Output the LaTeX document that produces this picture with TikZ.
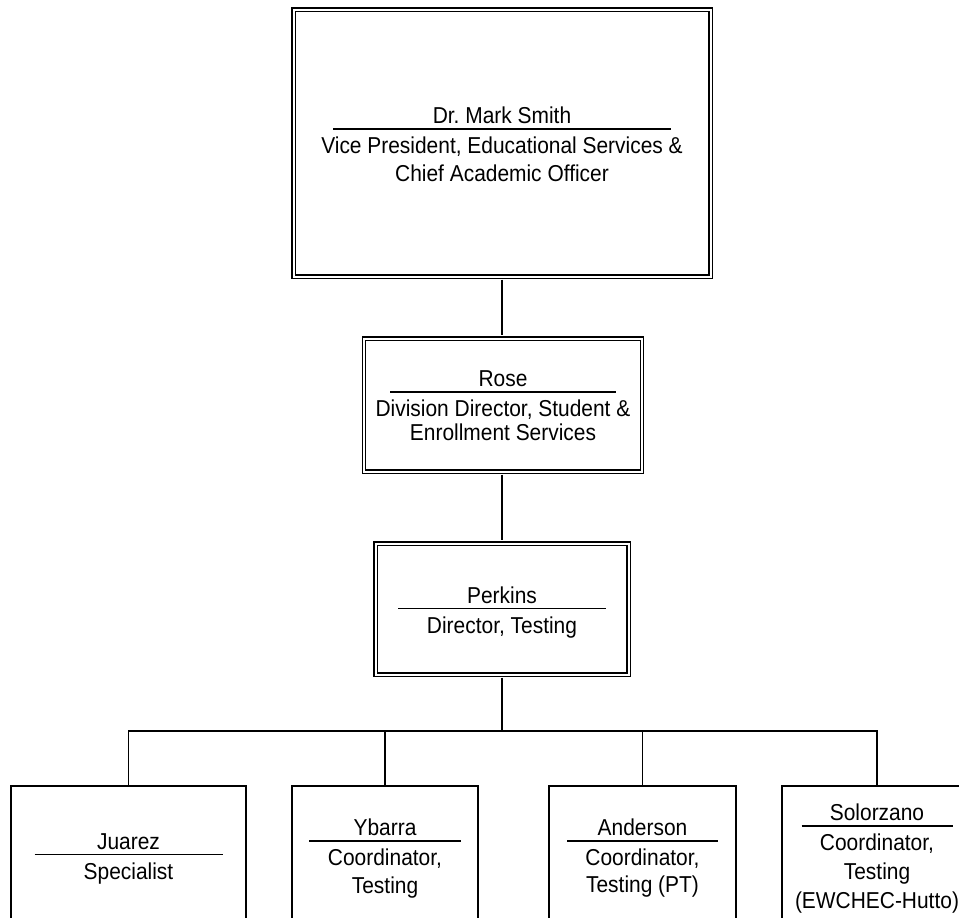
\documentclass[tikz,border=0pt]{standalone}
\usepackage{fontspec}
\setmainfont{Liberation Sans}[FakeStretch=0.91]
\usepackage{tikz}
\usetikzlibrary{positioning,calc}
\tikzset{
  orgline/.style={line width=1.4pt, draw=black},
  headbox/.style={draw, double, double distance=2pt, line width=1.4pt, inner sep=0pt, align=center},
  staffbox/.style={draw, line width=1.4pt, inner sep=0pt, minimum height=138pt, align=center}
}
% [line spacing] name, rule width, title lines
\newcommand{\orgcard}[4][27pt]{\fontsize{23}{#1}\selectfont
  \begin{tabular}{@{}c@{}}#2\rule{0pt}{\dimexpr#1*7/10+8pt\relax}\\[\dimexpr6pt-#1\relax]%
  \rule{#3}{1.5pt}\\[\dimexpr24pt-#1\relax]#4\end{tabular}}

\begin{document}
\begin{tikzpicture}[x=1pt, y=-1pt]
\path[use as bounding box, clip] (0,0) rectangle (959,918);

\node[headbox, minimum width=417pt, minimum height=267pt] at (502,143) (smith)
  {\orgcard[28pt]{Dr.\ Mark Smith}{338pt}{Vice President, Educational Services \&\\Chief Academic Officer}};
\node[headbox, minimum width=278pt, minimum height=133pt] at (503,405) (rose)
  {\orgcard[24pt]{Rose}{226pt}{Division Director, Student \&\\Enrollment Services}};
\node[headbox, minimum width=253pt, minimum height=131pt] at (502,609) (perkins)
  {\orgcard{Perkins}{208pt}{Director, Testing}};

\node[staffbox, minimum width=235pt] at (128.5,855) (juarez) {\orgcard{Juarez}{188pt}{Specialist}};
\node[staffbox, minimum width=186pt] at (385,855) (ybarra) {\orgcard[28pt]{Ybarra}{152pt}{Coordinator,\\Testing}};
\node[staffbox, minimum width=187pt] at (642.5,855) (anderson) {\orgcard[27pt]{Anderson}{151pt}{Coordinator,\\Testing (PT)}};
\node[staffbox, minimum width=190pt] at (877,855) (solorzano) {\orgcard[29pt]{Solorzano}{151pt}{Coordinator,\\Testing\\(EWCHEC-Hutto)}};

\coordinate (bus) at (502,731);
\draw[orgline, shorten <=2.4pt, shorten >=2.4pt] (smith.south) -- (smith.south |- rose.north);
\draw[orgline, shorten <=2.4pt, shorten >=2.4pt] (rose.south -| perkins.north) -- (perkins.north);
\draw[orgline, shorten <=2.4pt] (perkins.south) -- (bus);
\draw[orgline] (juarez.north) |- (bus) -| (solorzano.north);
\foreach \k in {ybarra,anderson}
  \draw[orgline] (\k.north) -- (\k.north |- bus);
\end{tikzpicture}
\end{document}
